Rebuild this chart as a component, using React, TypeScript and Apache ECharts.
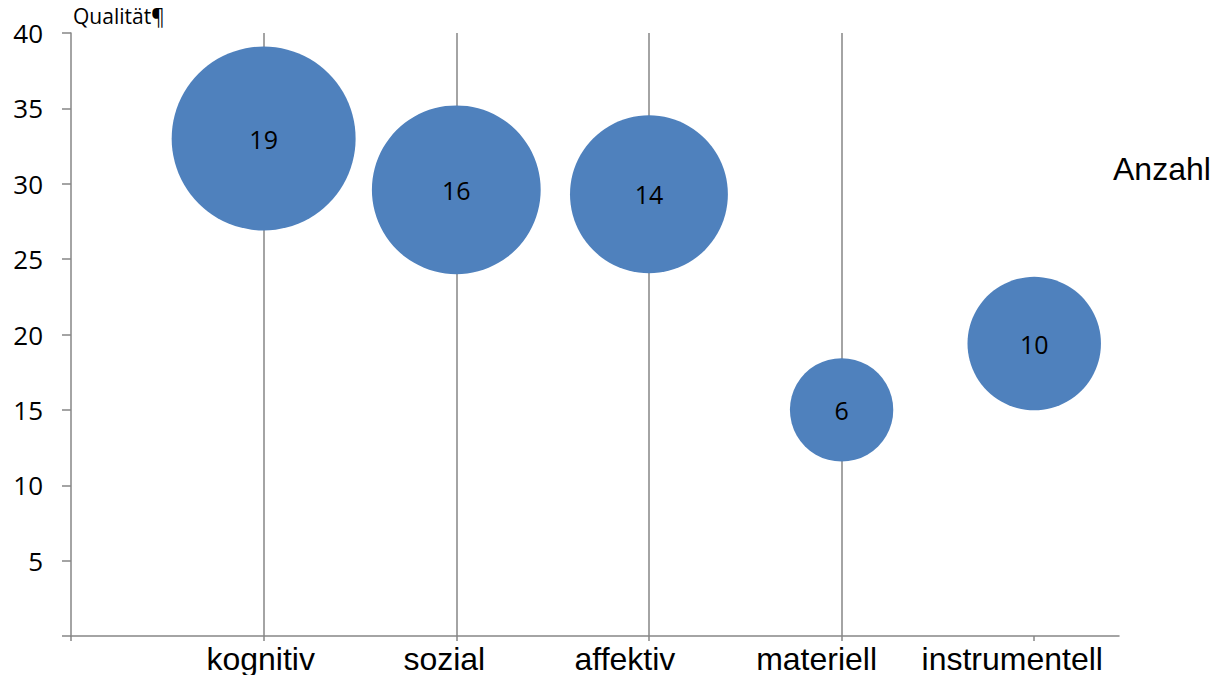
import React, { useEffect, useRef } from "react";
import * as echarts from "echarts";

const categories = ["kognitiv", "sozial", "affektiv", "materiell", "instrumentell"];
const quality = [33, 29.6, 29.3, 15, 19.4];
const counts = [19, 16, 14, 6, 10];

// horizontal shift (px, leftwards) of each category label, as in the reference layout
const labelShift = [3, 12, 24, 25, 22];

export default function App() {
  const ref = useRef<HTMLDivElement>(null);
  useEffect(() => {
    const chart = echarts.init(ref.current!, null, { renderer: "svg" });
    const data = categories.map((c, i) => [i + 1, quality[i], counts[i], c]);
    const labelFont = { fontFamily: "Liberation Sans, Arial, sans-serif", fontSize: 32, color: "#000" };
    const rich: Record<string, any> = {};
    labelShift.forEach((d, i) => {
      rich["c" + i] = { ...labelFont, padding: [0, 2 * d, 0, 0] };
    });
    chart.setOption({
      animation: false,
      grid: { left: 71, right: 106, top: 33, bottom: 39, containLabel: false },
      xAxis: {
        type: "value",
        min: 0,
        max: 5.44,
        interval: 1,
        axisLine: { show: true, lineStyle: { color: "#868686", width: 1.5 } },
        axisTick: {
          show: true,
          length: 5,
          customValues: [0, 1, 2, 3, 4, 5],
          lineStyle: { color: "#868686", width: 1.5 },
        },
        axisLabel: {
          customValues: [1, 2, 3, 4, 5],
          formatter: (v: number) => {
            const i = Math.round(v) - 1;
            return categories[i] ? `{c${i}|${categories[i]}}` : "";
          },
          ...labelFont,
          rich,
          margin: 7,
        },
        splitLine: {
          show: true,
          showMinLine: false,
          showMaxLine: false,
          lineStyle: { color: "#868686", width: 1.5 },
        },
      },
      yAxis: {
        type: "value",
        min: 0,
        max: 40,
        interval: 5,
        axisLine: { show: true, lineStyle: { color: "#868686", width: 1.5 } },
        axisTick: { show: true, length: 9, lineStyle: { color: "#868686", width: 1.5 } },
        axisLabel: {
          formatter: (v: number) => (v === 0 ? "" : String(v)),
          fontFamily: "Open Sans, sans-serif",
          fontSize: 26,
          color: "#000",
          margin: 28,
        },
        splitLine: { show: false },
      },
      series: [
        {
          type: "scatter",
          data,
          symbol: "circle",
          symbolSize: (val: number[]) => Math.sqrt(val[2]) * 42.2,
          itemStyle: { color: "#4F81BD", opacity: 1 },
          label: {
            show: true,
            position: "inside",
            formatter: (p: any) => String(p.value[2]),
            fontFamily: "Open Sans, sans-serif",
            fontSize: 25,
            color: "#000",
          },
        },
      ],
      graphic: [
        {
          type: "text",
          left: 73,
          top: 5,
          style: {
            text: "Qualität¶",
            fontFamily: "Open Sans, sans-serif",
            fontSize: 21,
            fill: "#000",
          },
        },
        {
          type: "text",
          left: 1113,
          top: 153,
          style: {
            text: "Anzahl",
            fontFamily: "Liberation Sans, Arial, sans-serif",
            fontSize: 32,
            fill: "#000",
          },
        },
      ],
    });
    return () => chart.dispose();
  }, []);
  return <div ref={ref} style={{ width: 1225, height: 675, position: "absolute", left: 0, top: 0 }} />;
}
